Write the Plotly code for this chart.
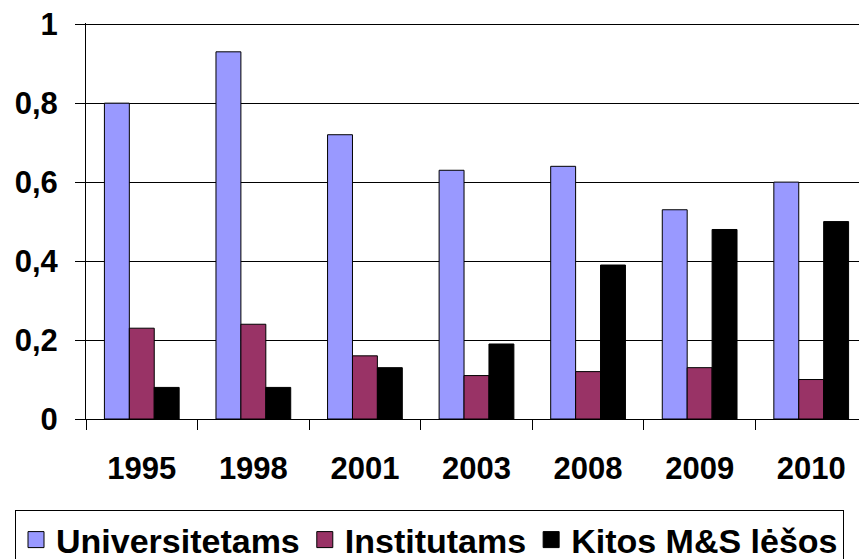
import plotly.graph_objects as go


# ==========================================================
# Data
# ==========================================================

years = ["1995", "1998", "2001", "2003", "2008", "2009", "2010"]

universitetams = [0.80, 0.93, 0.72, 0.63, 0.64, 0.53, 0.60]
institutams = [0.23, 0.24, 0.16, 0.11, 0.12, 0.13, 0.10]
kitos = [0.08, 0.08, 0.13, 0.19, 0.39, 0.48, 0.50]

y_ticks = [0, 0.2, 0.4, 0.6, 0.8, 1]
y_tick_labels = ["0", "0,2", "0,4", "0,6", "0,8", "1"]


# ==========================================================
# Figure
# ==========================================================

FONT = "Liberation Sans, Arial, sans-serif"

# page body keeps its default 8px margin, so the figure is a bit smaller
W, H = 859, 551
M_L, M_T, M_B = 78, 15, 140
PLOT_W = W - M_L
PLOT_H = H - M_T - M_B
LEGEND_TOP = 502

fig = go.Figure()

series = [
    ("Universitetams", universitetams, "#9999FF"),
    ("Institutams", institutams, "#993366"),
    ("Kitos M&S lėšos", kitos, "#000000"),
]

for name, values, color in series:
    fig.add_trace(
        go.Bar(
            x=years,
            y=values,
            name=name,
            showlegend=False,
            marker=dict(
                color=color,
                line=dict(color="black", width=1)
            )
        )
    )

# legend-only entries, so the legend squares can be larger
for name, values, color in series:
    fig.add_trace(
        go.Scatter(
            x=[None],
            y=[None],
            name=name,
            mode="markers",
            marker=dict(
                symbol="square",
                size=16,
                color=color,
                line=dict(color="black", width=1)
            )
        )
    )

fig.update_layout(
    width=W,
    height=H,
    paper_bgcolor="white",
    plot_bgcolor="white",
    barmode="group",
    bargap=0.33,
    bargroupgap=0,
    font=dict(family=FONT, color="black", size=31),
    margin=dict(l=M_L, r=0, t=M_T, b=M_B, autoexpand=False),
    legend=dict(
        orientation="h",
        x=-(M_L - 7) / PLOT_W,
        xanchor="left",
        y=-(LEGEND_TOP - (H - M_B)) / PLOT_H,
        yanchor="top",
        bordercolor="black",
        borderwidth=1,
        font=dict(family=FONT, size=34, color="black", weight="bold"),
        tracegroupgap=0,
        itemwidth=30
    )
)

fig.update_xaxes(
    type="category",
    tickson="boundaries",
    ticks="outside",
    ticklen=10,
    tickcolor="black",
    ticklabelstandoff=22,
    showline=True,
    linecolor="black",
    linewidth=1,
    showgrid=False,
    tickfont=dict(family=FONT, size=31, color="black", weight="bold")
)

fig.update_yaxes(
    range=[0, 1.003],
    tickvals=y_ticks,
    ticktext=y_tick_labels,
    ticks="outside",
    ticklen=10,
    tickcolor="black",
    ticklabelstandoff=11,
    ticklabeloverflow="allow",
    showline=True,
    linecolor="black",
    linewidth=1,
    showgrid=True,
    gridcolor="black",
    gridwidth=1,
    zeroline=False,
    tickfont=dict(family=FONT, size=31, color="black", weight="bold")
)

fig.write_html("out.html")
